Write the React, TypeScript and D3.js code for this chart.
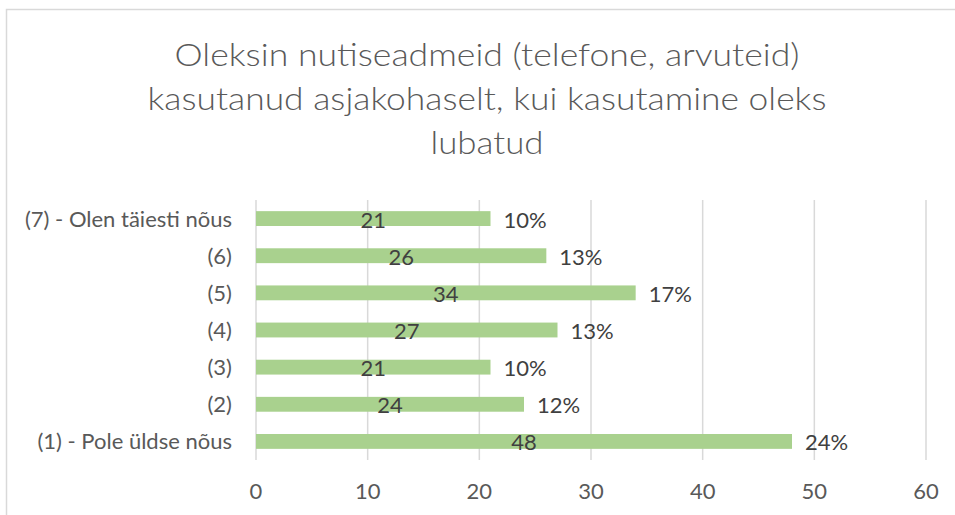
import React from "react";
import * as d3 from "d3";

const categories = [
  "(7) - Olen täiesti nõus",
  "(6)",
  "(5)",
  "(4)",
  "(3)",
  "(2)",
  "(1) - Pole üldse nõus",
];
const counts = [21, 26, 34, 27, 21, 24, 48];
const percentLabels = ["10%", "13%", "17%", "13%", "10%", "12%", "24%"];
const xTicks = [0, 10, 20, 30, 40, 50, 60];
const titleLines = [
  "Oleksin nutiseadmeid (telefone, arvuteid)",
  "kasutanud asjakohaselt, kui kasutamine oleks",
  "lubatud",
];

const W = 955;
const H = 515;
const FONT = "Lato, 'Open Sans', sans-serif";

export default function App() {
  const x = d3.scaleLinear().domain([0, 60]).range([256, 926]);
  const y = d3
    .scaleBand<string>()
    .domain(categories)
    .range([200, 460])
    .paddingInner(0.6)
    .paddingOuter(0.3);
  const bw = y.bandwidth();
  const titleWidths = [625, 679, 113];
  const titleBaselines = [66, 110, 154];

  return (
    <svg
      width={W}
      height={H}
      style={{ position: "absolute", left: 0, top: 0, background: "#fff" }}
      fontFamily={FONT}
    >
      <rect x={0} y={0} width={W} height={H} fill="#fff" />
      <rect
        x={6.5}
        y={9.5}
        width={1200}
        height={1200}
        fill="none"
        stroke="#d9d9d9"
        strokeWidth={1.5}
      />
      {titleLines.map((t, i) => (
        <text
          key={i}
          x={487}
          y={titleBaselines[i]}
          textAnchor="middle"
          fontSize={32}
          fontWeight={300}
          fill="#595959"
          textLength={titleWidths[i]}
          lengthAdjust="spacingAndGlyphs"
        >
          {t}
        </text>
      ))}
      {xTicks.map((t) => (
        <g key={t}>
          <line
            x1={x(t)}
            x2={x(t)}
            y1={200}
            y2={460}
            stroke="#d9d9d9"
            strokeWidth={1.5}
          />
          <text
            x={x(t)}
            y={499}
            textAnchor="middle"
            fontSize={22}
            fill="#595959"
          >
            {t}
          </text>
        </g>
      ))}
      {categories.map((c, i) => {
        const yc = (y(c) as number) + bw / 2;
        return (
          <g key={c}>
            <rect
              x={x(0)}
              y={y(c)}
              width={x(counts[i]) - x(0)}
              height={bw}
              fill="#a9d18e"
            />
            <text
              x={232}
              y={yc + 8}
              textAnchor="end"
              fontSize={22}
              fill="#595959"
            >
              {c}
            </text>
            <text
              x={(x(0) + x(counts[i])) / 2}
              y={yc + 9}
              textAnchor="middle"
              fontSize={22}
              fill="#404040"
            >
              {counts[i]}
            </text>
            <text
              x={x(counts[i]) + 13}
              y={yc + 9}
              textAnchor="start"
              fontSize={22}
              fill="#404040"
            >
              {percentLabels[i]}
            </text>
          </g>
        );
      })}
    </svg>
  );
}
